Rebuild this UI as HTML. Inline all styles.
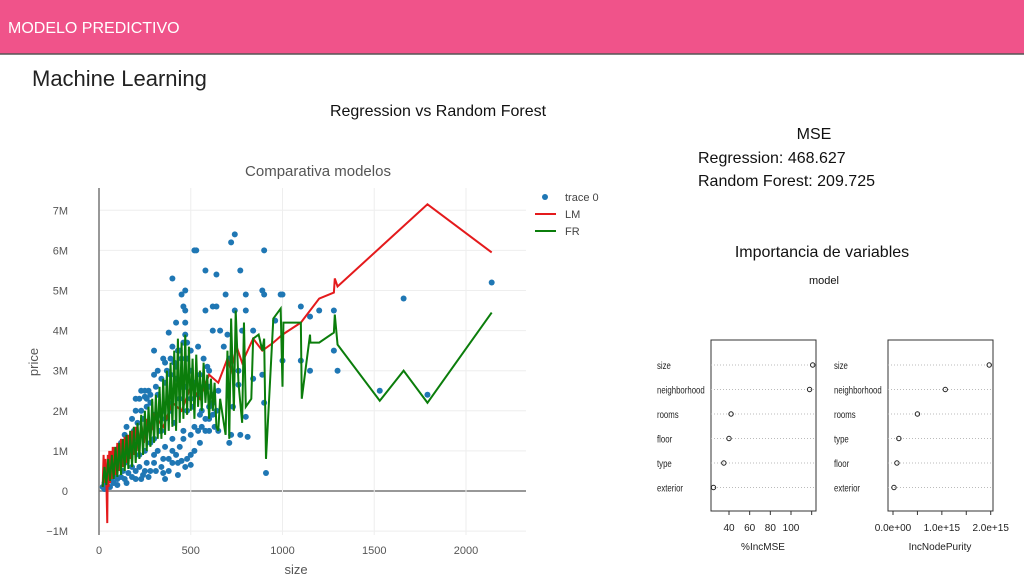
<!DOCTYPE html>
<html><head><meta charset="utf-8"><style>
body{margin:0;width:1024px;height:576px;overflow:hidden;background:#fff;font-family:"Liberation Sans",sans-serif}
</style></head><body>
<svg width="1024" height="576" xmlns="http://www.w3.org/2000/svg" font-family="Liberation Sans, sans-serif">
<rect x="0" y="0" width="1024" height="54" fill="#f0538a"/>
<line x1="0" y1="54" x2="1024" y2="54" stroke="#555" stroke-width="1.5"/>
<text x="8" y="33" font-size="16" fill="#fff">MODELO PREDICTIVO</text>
<text x="32" y="86" font-size="22" fill="#222">Machine Learning</text>
<text x="438" y="116" font-size="16" text-anchor="middle" fill="#111">Regression vs Random Forest</text>
<text x="814" y="139" font-size="16" text-anchor="middle" fill="#111">MSE</text>
<text x="698" y="163" font-size="16" fill="#111">Regression: 468.627</text>
<text x="698" y="186" font-size="16" fill="#111">Random Forest: 209.725</text>
<text x="822" y="257" font-size="16" text-anchor="middle" fill="#111">Importancia de variables</text>
<g id="main"></g>
<g id="imp"></g>
</svg>
<script>
const scatterSize=[400,520,530,580,640,720,740,770,900,450,470,690,800,890,900,1000,990,460,470,580,620,640,740,800,1100,1200,1280,1150,960,420,470,380,470,620,700,780,840,1280,1000,1100,1150,1300,760,840,890,760,900,730,800,720,770,810,710,910,1530,1660,1790,2140,300,320,350,360,300,270,250,230,200,180,150,140,120,100,80,60,40,20,30,50,100,150,200,250,300,350,400,450,500,550,600,650,580,620,650,550,500,450,400,420,380,340,280,220,180,130,90,70,240,260,320,360,420,480,520,460,410,330,290,210,170,110,380,360,430,470,560,600,680,710,660,540,480,440,390,150,200,250,300,350,400,450,500,550,600,620,60,45,75,
30,40,60,80,100,120,140,160,180,200,220,240,260,280,300,320,340,360,380,400,420,440,460,480,500,520,540,560,580,600,620,640,100,130,160,190,210,230,260,280,310,340,370,390,410,430,460,480,500,520,540,570,590,70,90,110,200,220,250,280,230,270,310,400,430,500,350,330,360,390,440,470,510,550,600,630,260,300,170,140];
const scatterPrice=[5.3,6.0,6.0,5.5,5.4,6.2,6.4,5.5,6.0,4.9,5.0,4.9,4.9,5.0,4.9,4.9,4.9,4.6,4.5,4.5,4.6,4.6,4.5,4.5,4.6,4.5,4.5,4.35,4.25,4.2,4.2,3.95,3.9,4.0,3.9,4.0,4.0,3.5,3.25,3.25,3.0,3.0,3.0,2.8,2.9,2.65,2.2,2.1,1.85,1.4,1.4,1.35,1.2,0.45,2.5,4.8,2.4,5.2,3.5,3.0,3.3,3.2,2.9,2.5,2.35,2.5,2.0,1.8,1.6,1.4,1.2,1.0,0.9,0.7,0.4,0.1,0.2,0.1,0.15,0.2,0.3,0.5,0.7,0.8,1.0,0.75,0.9,1.2,1.5,1.5,1.8,2.2,2.5,2.6,3.0,3.3,3.6,2.8,2.2,1.5,1.2,0.9,0.6,0.5,0.4,0.25,1.8,2.1,2.4,2.7,3.1,2.0,1.6,1.3,1.7,1.9,1.6,1.3,1.1,0.7,0.5,0.3,0.7,0.6,2.0,3.0,3.6,3.3,4.0,3.6,3.7,3.5,3.3,0.9,1.5,1.0,1.3,2.0,2.5,2.6,2.3,2.9,2.6,1.9,0.5,0.3,0.6,
0.05,0.15,0.1,0.2,0.3,0.35,0.3,0.45,0.35,0.5,0.6,0.4,0.7,0.5,0.9,1.0,0.6,1.1,0.8,1.3,0.9,1.1,1.5,0.8,1.4,1.0,1.5,1.6,1.5,1.8,2.4,2.0,0.8,1.0,1.3,1.5,1.7,2.0,2.3,2.2,2.6,2.8,3.0,2.9,3.2,3.5,3.7,3.3,3.5,2.7,2.4,3.3,3.1,0.8,1.0,1.1,2.3,2.3,2.5,2.4,0.3,0.35,0.5,0.7,0.4,0.65,0.45,1.5,1.8,2.0,2.3,2.6,2.1,1.9,2.1,1.6,1.6,1.9,0.9,0.7];
const lmSize=[20,25,30,35,40,45,48,52,56,60,65,70,75,80,85,90,100,110,120,130,140,150,160,170,180,190,200,215,230,245,260,280,300,350,400,450,500,550,600,650,700,720,750,780,840,890,950,1000,1100,1200,1280,1285,1300,1790,2140];
const lmPrice=[0.1,0.9,0.2,0.8,0.3,-0.8,0.9,0.1,1.0,0.2,1.0,0.3,1.1,0.35,1.1,0.4,1.2,0.5,1.3,0.6,1.35,0.7,1.4,0.8,1.5,0.9,1.6,1.0,1.7,1.2,1.8,1.4,1.9,1.6,2.2,2.0,2.6,2.3,2.9,2.7,3.3,3.0,3.6,3.2,3.8,3.5,3.7,3.9,4.2,4.8,4.95,5.3,5.1,7.15,5.95];
const frSize=[20,30,40,50,60,70,80,90,100,110,120,130,140,150,160,170,180,190,200,210,220,230,240,250,260,270,280,290,300,310,320,330,340,350,360,370,380,390,400,410,420,430,440,450,460,470,480,490,500,510,520,530,540,550,560,570,580,590,600,610,620,630,640,650,660,690,700,710,720,735,745,760,780,790,800,830,840,870,890,900,910,950,990,1000,1005,1100,1105,1150,1152,1200,1280,1285,1300,1530,1660,1790,2140];
const frPrice=[0.1,0.6,0.15,0.8,0.25,0.9,0.3,1.1,0.35,1.2,0.4,1.3,0.5,1.4,0.55,1.5,0.6,1.6,0.7,1.7,0.8,1.9,0.9,2.0,1.0,2.1,1.1,2.3,1.2,2.4,1.3,2.6,1.3,2.8,1.4,3.0,1.5,3.2,1.6,3.5,1.5,3.8,1.7,3.7,1.8,3.9,1.9,3.6,2.0,3.3,1.8,3.4,2.1,3.0,2.0,3.2,2.2,2.9,1.8,2.8,2.0,2.7,1.6,1.5,2.3,1.4,3.5,1.3,4.3,2.0,4.5,2.7,1.7,4.2,2.1,2.3,3.8,3.9,3.5,3.8,0.8,4.3,4.55,2.6,4.2,4.2,2.3,3.9,3.7,3.7,3.95,4.4,3.65,2.25,3.0,2.2,4.45];
const xTicks=[0,500,1000,1500,2000];
const yTicks=[-1,0,1,2,3,4,5,6,7];
const impVars=["size","neighborhood","rooms","floor","type","exterior"];
const impMSE=[121,118,42,40,35,25];
const impVars2=["size","neighborhood","rooms","type","floor","exterior"];
const impPurity=[1.97,1.07,0.5,0.12,0.08,0.02];
const mseTicks=[40,60,80,100,120];
const purTicks=[0,0.5,1.0,1.5,2.0];
const purLabels={0:"0.0e+00",1:"1.0e+15",2:"2.0e+15"};

const NS="http://www.w3.org/2000/svg";
function mk(p,tag,at){const e=document.createElementNS(NS,tag);for(const k in at)e.setAttribute(k,at[k]);p.appendChild(e);return e;}
const X=v=>99+v*(367/2000), Y=v=>491-v*40.1;
const g=document.getElementById('main');
let t=mk(g,'text',{x:318,y:176,'font-size':15,'text-anchor':'middle',fill:'#555'});t.textContent='Comparativa modelos';


yTicks.forEach(v=>{
 const l=mk(g,'line',{x1:99,x2:526,y1:Y(v),y2:Y(v),stroke:v===0?'#777':'#eee','stroke-width':v===0?1.5:1});
 
 
 const tx=mk(g,'text',{x:68,y:Y(v)+4,'font-size':11,'text-anchor':'end',fill:'#555'});tx.textContent=v===0?'0':(v<0?'\u22121M':v+'M');
 
 
});
xTicks.forEach(v=>{
 if(v>0){const l=mk(g,'line',{x1:X(v),x2:X(v),y1:188,y2:535,stroke:'#eee'});
 
 }
 const tx=mk(g,'text',{x:X(v),y:554,'font-size':11,'text-anchor':'middle',fill:'#555'});tx.textContent=v;
 
 
});
let ax=mk(g,'line',{x1:99,x2:99,y1:188,y2:535,stroke:'#777','stroke-width':1.5});


t=mk(g,'text',{x:296,y:574,'font-size':13,'text-anchor':'middle',fill:'#555'});t.textContent='size';


t=mk(g,'text',{x:38,y:362,'font-size':13,'text-anchor':'middle',fill:'#555',transform:'rotate(-90 38 362)'});t.textContent='price';


scatterSize.forEach((s,i)=>{
 const c=mk(g,'circle',{cx:X(s),cy:Y(scatterPrice[i]),r:3,fill:'#1f77b4'});
 
 
});
let p=mk(g,'polyline',{points:lmSize.map((s,i)=>X(s)+','+Y(lmPrice[i])).join(' '),fill:'none',stroke:'#e41a1c','stroke-width':2});


p=mk(g,'polyline',{points:frSize.map((s,i)=>X(s)+','+Y(frPrice[i])).join(' '),fill:'none',stroke:'#0b7d0b','stroke-width':2});


let c=mk(g,'circle',{cx:545,cy:197,r:3,fill:'#1f77b4'});


[['trace 0',201],['LM',218],['FR',235]].forEach(([n,y])=>{const tx=mk(g,'text',{x:565,y:y,'font-size':11,fill:'#444'});tx.textContent=n;
 
 });
let l=mk(g,'line',{x1:535,x2:556,y1:214,y2:214,stroke:'#e41a1c','stroke-width':2});


l=mk(g,'line',{x1:535,x2:556,y1:231,y2:231,stroke:'#0b7d0b','stroke-width':2});



const gi=document.getElementById('imp');
t=mk(gi,'text',{x:824,y:284,'font-size':11,'text-anchor':'middle',fill:'#111'});t.textContent='model';


const rowY=[365,389.5,414,438.5,463,487.5];
function panel(bx,vars,vals,sx,ticks,labelFn,title,name){
 const r=mk(gi,'rect',{x:bx,y:340,width:105,height:171,fill:'none',stroke:'#333'});
 
 
 vars.forEach((v,i)=>{
  const ln=mk(gi,'line',{x1:bx,x2:bx+105,y1:rowY[i],y2:rowY[i],stroke:'#bbb','stroke-dasharray':'1 2'});
  
  
  const tx=mk(gi,'text',{x:bx-54,y:rowY[i]+4,'font-size':10,fill:'#222'});tx.textContent=v;
  const w=tx.getComputedTextLength();
  if(w>0){tx.setAttribute('textLength',w*0.78);tx.setAttribute('lengthAdjust','spacingAndGlyphs');}
  
  
  const cc=mk(gi,'circle',{cx:sx(vals[i]),cy:rowY[i],r:2.2,fill:'none',stroke:'#222'});
  
  
 });
 ticks.forEach(v=>{
  const tl=mk(gi,'line',{x1:sx(v),x2:sx(v),y1:511,y2:515,stroke:'#333'});
  
  
  const lb=labelFn(v);
  if(lb){const tx=mk(gi,'text',{x:sx(v),y:531,'font-size':10,'text-anchor':'middle',fill:'#222'});tx.textContent=lb;
  
  }
 });
 const tt=mk(gi,'text',{x:bx+52,y:550,'font-size':10,'text-anchor':'middle',fill:'#222'});tt.textContent=title;
 
 
}
panel(711,impVars,impMSE,v=>729+(v-40)*(62/60),mseTicks,v=>v<=100?String(v):'', '%IncMSE','mse-panel');
panel(888,impVars2,impPurity,v=>893+v*(97.7/2),purTicks,v=>purLabels[v]||'', 'IncNodePurity','purity-panel');
</script>
</body></html>
